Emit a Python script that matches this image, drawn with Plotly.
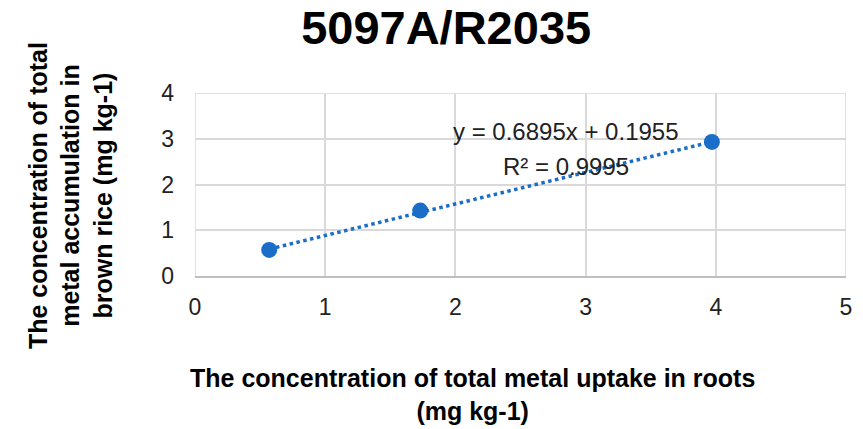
import numpy as np
import plotly.graph_objects as go

x_vals = [0.57, 1.73, 3.97]
y_vals = [0.57, 1.43, 2.93]
slope = 0.6895
intercept = 0.1955
eq_text = "y = 0.6895x + 0.1955"
r2_text = "R² = 0.9995"
title_text = "5097A/R2035"
x_title = "The concentration of total metal uptake in roots<br>(mg kg-1)"
y_title = "The concentration of total<br>metal accumulation in<br>brown rice (mg kg-1)"
x_ticks = [0, 1, 2, 3, 4, 5]
y_ticks = [0, 1, 2, 3, 4]

blue = "#1a6ec8"
trend_x = [min(x_vals), max(x_vals)]
trend_y = [slope * v + intercept for v in trend_x]

fig = go.Figure()
fig.add_trace(go.Scatter(x=trend_x, y=trend_y, mode="lines",
                         line=dict(color=blue, width=3.5, dash="dot"),
                         showlegend=False, hoverinfo="skip"))
fig.add_trace(go.Scatter(x=x_vals, y=y_vals, mode="markers",
                         marker=dict(color=blue, size=16),
                         showlegend=False))

fig.add_annotation(x=2.85, y=3.15, text=eq_text, showarrow=False,
                   xanchor="center", yanchor="middle",
                   font=dict(family="Liberation Sans", size=24, color="#222"))
fig.add_annotation(x=2.85, y=2.40, text=r2_text, showarrow=False,
                   xanchor="center", yanchor="middle",
                   font=dict(family="Liberation Sans", size=24, color="#222"))

fig.add_annotation(xref="paper", yref="paper", x=0.427, y=-0.645,
                   xanchor="center", yanchor="middle",
                   text="<b>" + x_title + "</b>", showarrow=False,
                   font=dict(family="Liberation Sans", size=25, color="#000"),
                   align="center")
fig.add_annotation(xref="paper", yref="paper", x=-0.192, y=0.437,
                   xanchor="center", yanchor="middle",
                   text="<b>" + y_title + "</b>", showarrow=False, textangle=-90,
                   font=dict(family="Liberation Sans", size=25, color="#000"),
                   align="center")

fig.update_layout(
    width=863, height=429,
    margin=dict(l=195, r=17, t=93, b=153),
    paper_bgcolor="white", plot_bgcolor="white",
    title=dict(text="<b>" + title_text + "</b>", x=0.517, xanchor="center",
               y=0.935, yanchor="middle",
               font=dict(family="Liberation Sans", size=47, color="#000")),
    xaxis=dict(range=[0, 5], tickvals=x_ticks, showgrid=True, gridcolor="#d9d9d9",
               gridwidth=1.5, zeroline=False, showline=True, linecolor="#bfbfbf",
               linewidth=2, ticks="", ticklabelstandoff=9,
               tickfont=dict(family="Liberation Sans", size=23, color="#222")),
    yaxis=dict(range=[0, 4], tickvals=y_ticks, showgrid=True, gridcolor="#d9d9d9",
               gridwidth=1.5, zeroline=False, showline=False, ticks="",
               ticklabelstandoff=20,
               tickfont=dict(family="Liberation Sans", size=23, color="#222")),
)
fig.add_shape(type="line", xref="x", yref="paper", x0=0, x1=0, y0=0, y1=1,
              line=dict(color="#d9d9d9", width=1.5), layer="below")
fig.add_shape(type="line", xref="x", yref="paper", x0=5, x1=5, y0=0, y1=1,
              line=dict(color="#d9d9d9", width=1.5), layer="below")
fig.add_shape(type="line", xref="paper", yref="y", x0=0, x1=1, y0=4, y1=4,
              line=dict(color="#d9d9d9", width=1.5), layer="below")

fig.write_html("out.html", config={"displayModeBar": False},
               post_script="document.body.style.margin='0px';")
